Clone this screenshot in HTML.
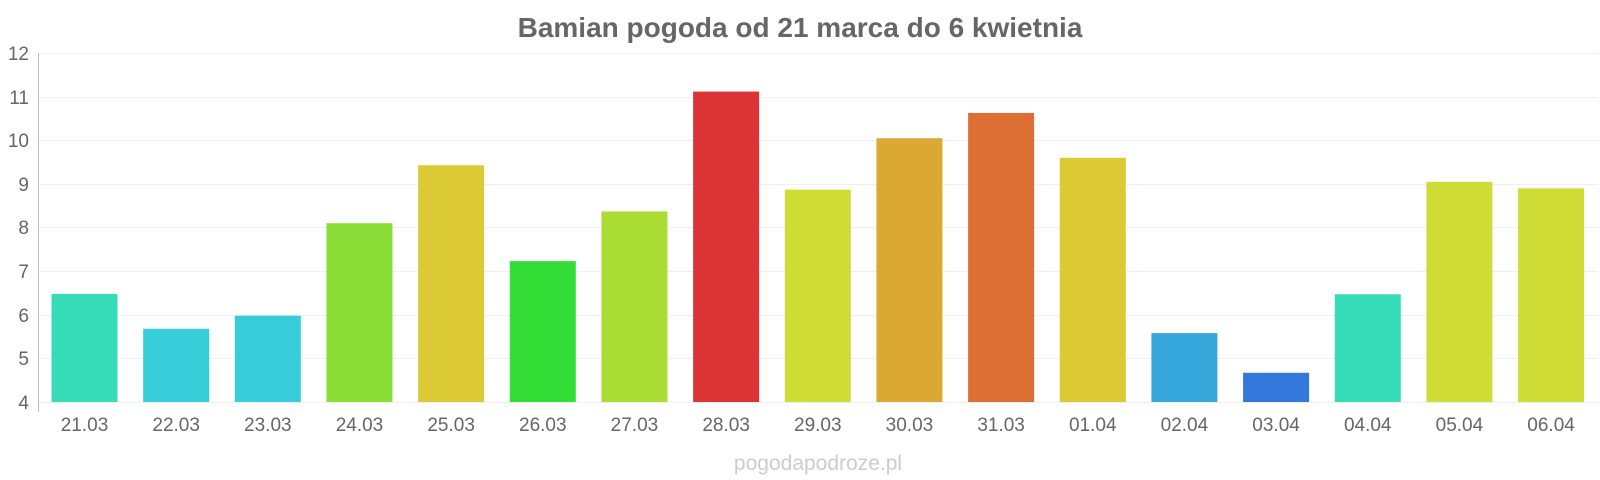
<!DOCTYPE html>
<html><head><meta charset="utf-8"><style>
html,body{margin:0;padding:0;background:#fff;width:1600px;height:480px;overflow:hidden}
svg{display:block;font-family:"Liberation Sans",sans-serif}
</style></head><body>
<svg width="1600" height="480" xmlns="http://www.w3.org/2000/svg">
<text x="800" y="37" text-anchor="middle" font-size="28" font-weight="bold" fill="#666">Bamian pogoda od 21 marca do 6 kwietnia</text>
<g stroke="#f0f0f0" stroke-width="1">
<line x1="39" x2="1598" y1="53.5" y2="53.5"/><line x1="39" x2="1598" y1="97.5" y2="97.5"/>
<line x1="39" x2="1598" y1="140.5" y2="140.5"/><line x1="39" x2="1598" y1="184.5" y2="184.5"/>
<line x1="39" x2="1598" y1="227.5" y2="227.5"/><line x1="39" x2="1598" y1="271.5" y2="271.5"/>
<line x1="39" x2="1598" y1="315.5" y2="315.5"/><line x1="39" x2="1598" y1="358.5" y2="358.5"/>
<line x1="39" x2="1598" y1="402.5" y2="402.5"/>
</g>
<line x1="38.5" x2="38.5" y1="53" y2="412" stroke="#bbb"/>
<g font-size="19" fill="#666" text-anchor="end">
<text x="29" y="60">12</text><text x="29" y="104">11</text><text x="29" y="147">10</text>
<text x="29" y="191">9</text><text x="29" y="234">8</text><text x="29" y="278">7</text>
<text x="29" y="322">6</text><text x="29" y="365">5</text><text x="29" y="409">4</text>
</g>
<g id="bars"></g>
<g id="labels" font-size="19" fill="#666" text-anchor="middle"></g>
<text x="818" y="470" text-anchor="middle" font-size="21" fill="#ccc">pogodapodroze.pl</text>
<script>
var d=[["21.03",6.48,"#36dcb8"],["22.03",5.68,"#36cdd9"],["23.03",5.98,"#36cdd9"],["24.03",8.1,"#8add36"],["25.03",9.43,"#dbca33"],["26.03",7.23,"#34dd36"],["27.03",8.37,"#aadc33"],["28.03",11.12,"#dc3435"],["29.03",8.87,"#cfdc33"],["30.03",10.05,"#dba833"],["31.03",10.63,"#dd6f34"],["01.04",9.6,"#dbca33"],["02.04",5.58,"#36a8dc"],["03.04",4.67,"#3478dc"],["04.04",6.47,"#36dcb8"],["05.04",9.05,"#cfdc36"],["06.04",8.9,"#cfdc36"]];
var b=document.getElementById("bars"),l=document.getElementById("labels"),ns="http://www.w3.org/2000/svg";
d.forEach(function(e,i){var c=84.5+i*91.66,t=402-(e[1]-4)*43.6;
var r=document.createElementNS(ns,"rect");r.setAttribute("x",c-33);r.setAttribute("y",t);r.setAttribute("width",66);r.setAttribute("height",402-t);r.setAttribute("fill",e[2]);b.appendChild(r);
var s=document.createElementNS(ns,"text");s.setAttribute("x",c);s.setAttribute("y",431);s.textContent=e[0];l.appendChild(s);});
</script>
</svg>
</body></html>
